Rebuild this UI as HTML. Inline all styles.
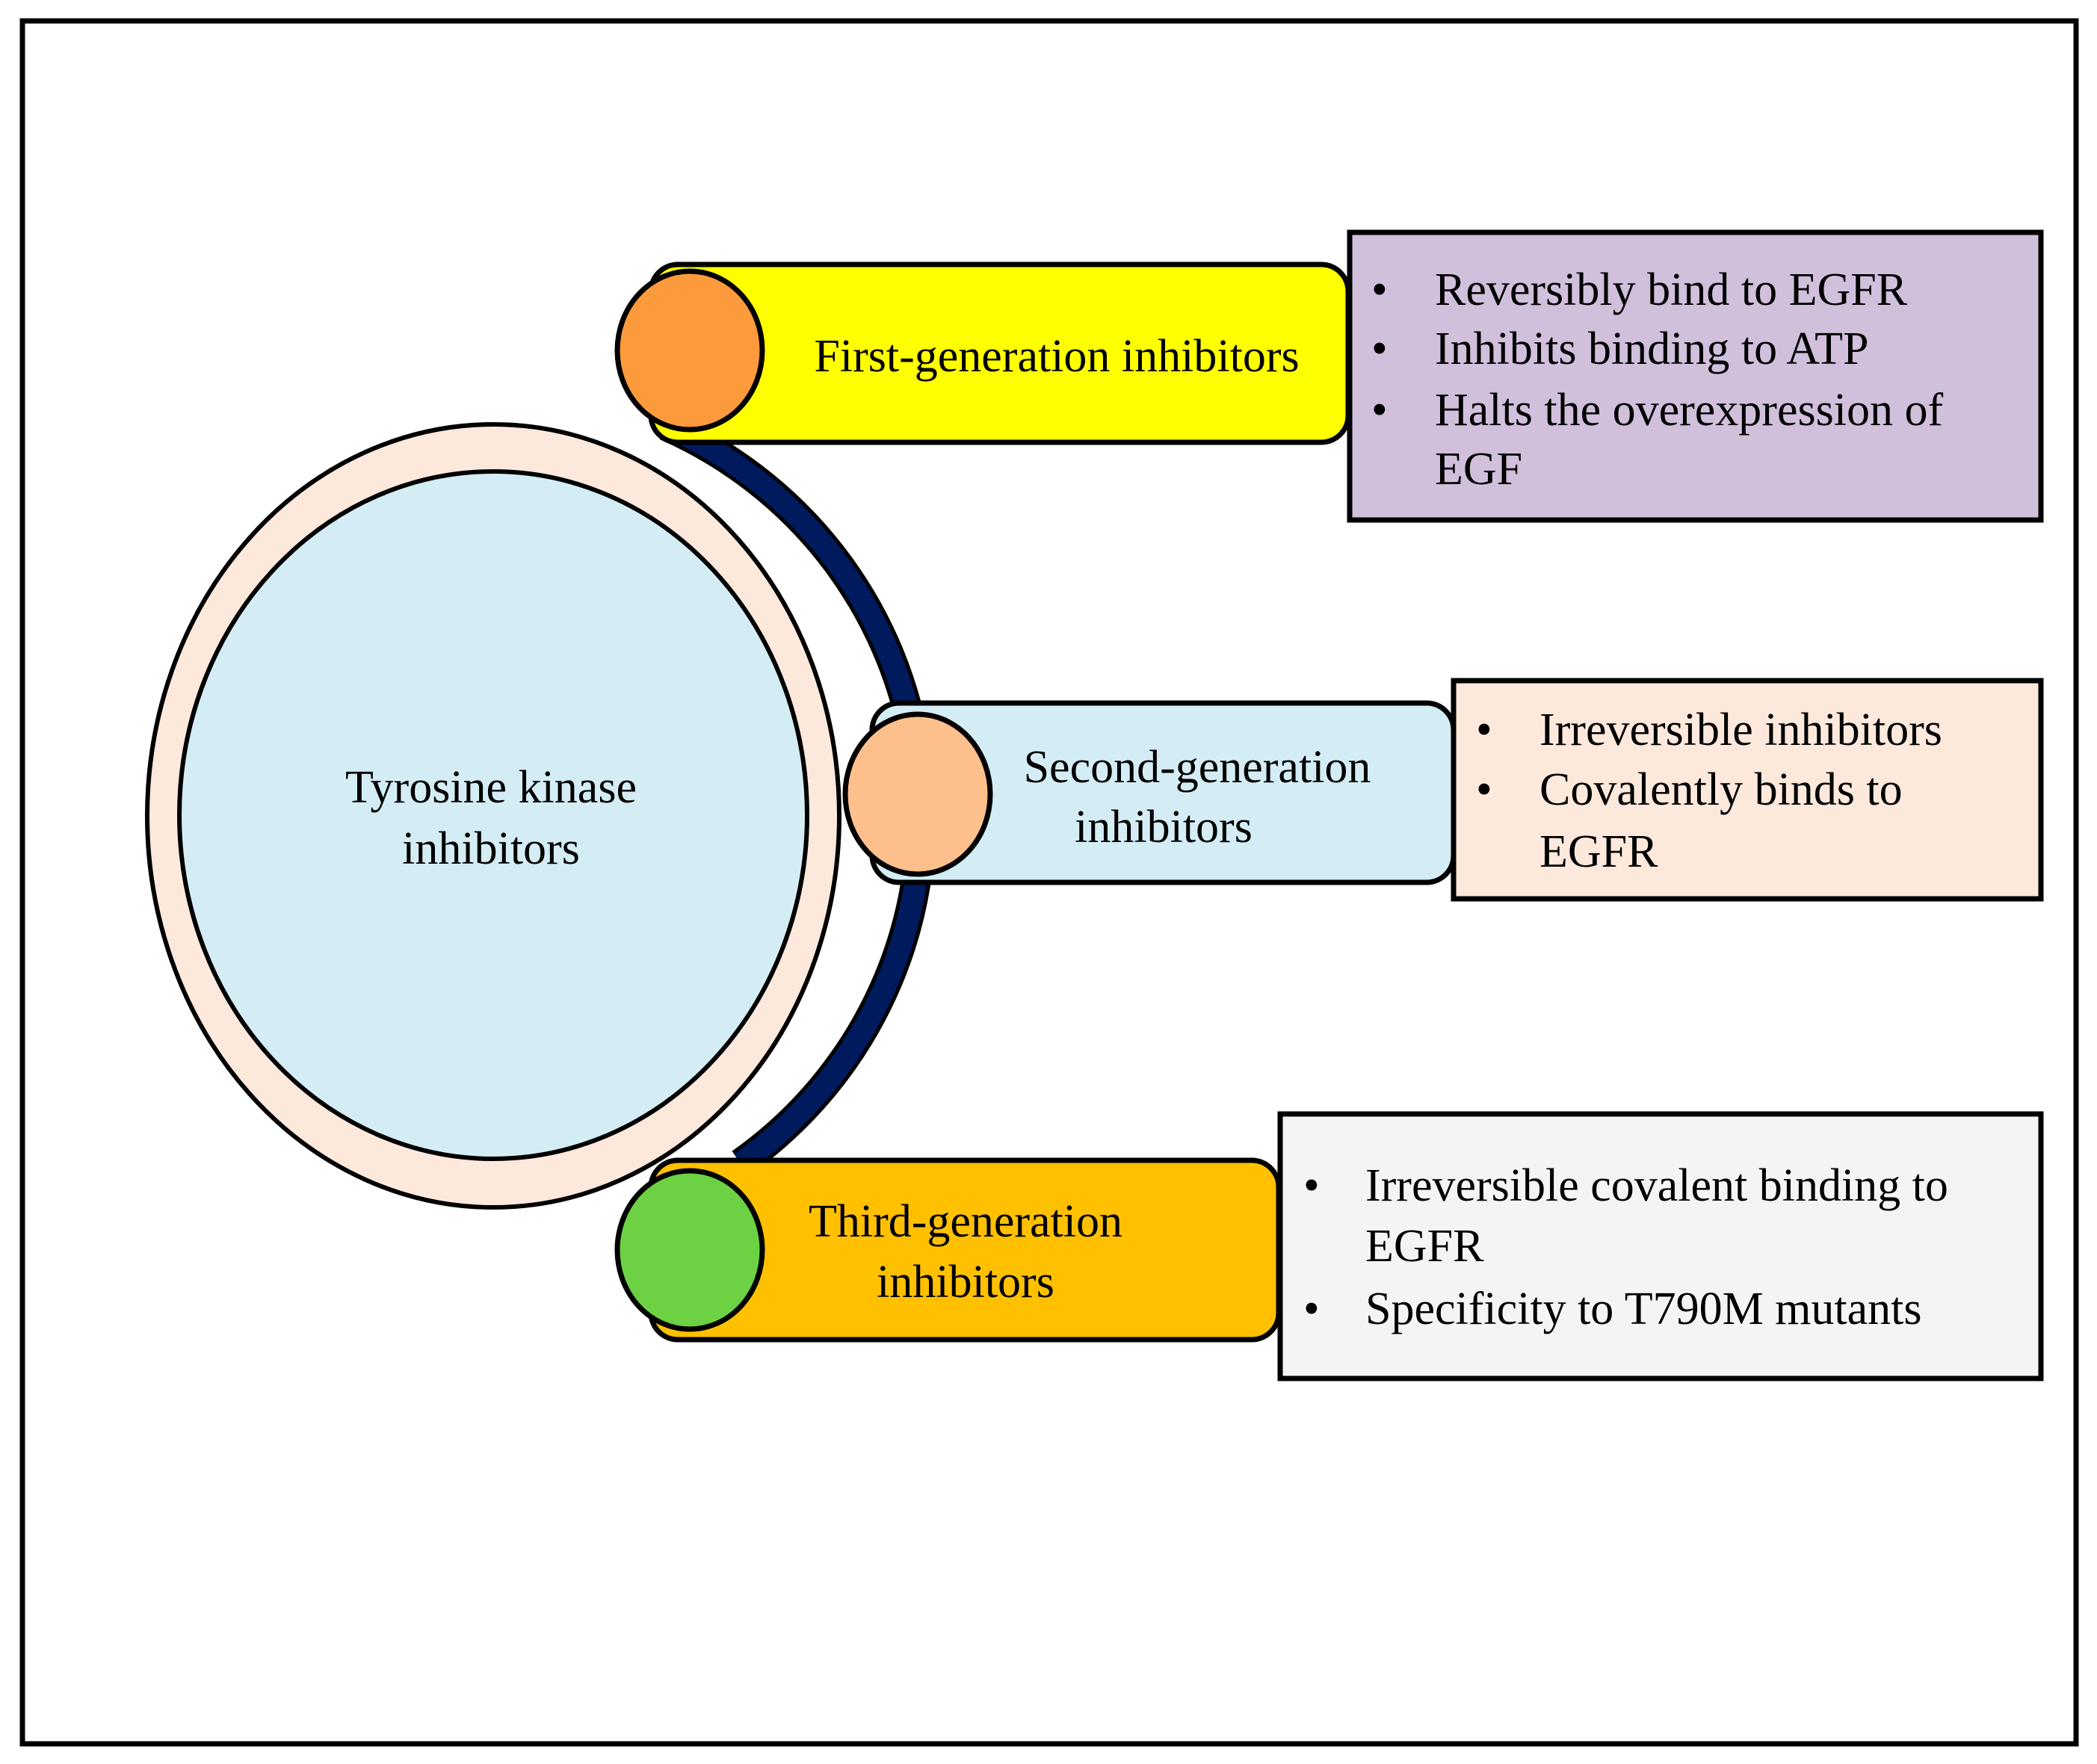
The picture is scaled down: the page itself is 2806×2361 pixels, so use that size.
<!DOCTYPE html>
<html><head><meta charset="utf-8"><style>html,body{margin:0;padding:0;background:#fff}svg{display:block}text{font-family:"Liberation Serif","Times New Roman",serif;font-size:62px}</style></head>
<body>
<svg width="2806" height="2361" viewBox="0 0 2806 2361" xmlns="http://www.w3.org/2000/svg">
<rect x="0" y="0" width="2806" height="2361" fill="#fff"/>
<rect x="30" y="28" width="2748" height="2306" fill="none" stroke="#000" stroke-width="7"/>
<ellipse cx="660" cy="1092" rx="463" ry="524" fill="#fde9dc" stroke="#000" stroke-width="6"/>
<ellipse cx="660" cy="1091" rx="420" ry="460" fill="#d4edf5" stroke="#000" stroke-width="6"/>
<text x="657" y="1074" text-anchor="middle">Tyrosine kinase</text>
<text x="657" y="1156" text-anchor="middle">inhibitors</text>
<path d="M 891 570 A 575 571 0 0 1 991 1557" fill="none" stroke="#000" stroke-width="40"/>
<path d="M 891 570 A 575 571 0 0 1 991 1557" fill="none" stroke="#001a5e" stroke-width="30"/>
<rect x="871" y="354" width="933" height="238" rx="36" fill="#ffff00" stroke="#000" stroke-width="7"/>
<ellipse cx="923" cy="469" rx="97" ry="106" fill="#fd9a3c" stroke="#000" stroke-width="7"/>
<text x="1414" y="497" text-anchor="middle">First-generation inhibitors</text>
<rect x="1806" y="311" width="925" height="385" fill="#d0c0dc" stroke="#000" stroke-width="7"/>
<text x="1835" y="408">•</text><text x="1920" y="408">Reversibly bind to EGFR</text>
<text x="1835" y="487">•</text><text x="1920" y="487">Inhibits binding to ATP</text>
<text x="1835" y="569">•</text><text x="1920" y="569">Halts the overexpression of</text>
<text x="1920" y="648">EGF</text>
<rect x="1167" y="941" width="778" height="240" rx="36" fill="#d4edf5" stroke="#000" stroke-width="7"/>
<ellipse cx="1228" cy="1063" rx="97" ry="107" fill="#fdbf8c" stroke="#000" stroke-width="7"/>
<text x="1602" y="1047" text-anchor="middle">Second-generation</text>
<text x="1557" y="1127" text-anchor="middle">inhibitors</text>
<rect x="1945" y="911" width="786" height="292" fill="#fde9dc" stroke="#000" stroke-width="7"/>
<text x="1975" y="997">•</text><text x="2060" y="997">Irreversible inhibitors</text>
<text x="1975" y="1077">•</text><text x="2060" y="1077">Covalently binds to</text>
<text x="2060" y="1160">EGFR</text>
<rect x="871" y="1553" width="840" height="240" rx="36" fill="#ffc000" stroke="#000" stroke-width="7"/>
<ellipse cx="923" cy="1673" rx="97" ry="106" fill="#6cd244" stroke="#000" stroke-width="7"/>
<text x="1292" y="1655" text-anchor="middle">Third-generation</text>
<text x="1292" y="1736" text-anchor="middle">inhibitors</text>
<rect x="1713" y="1491" width="1018" height="354" fill="#f4f4f4" stroke="#000" stroke-width="7"/>
<text x="1744" y="1607">•</text><text x="1827" y="1607">Irreversible covalent binding to</text>
<text x="1827" y="1688">EGFR</text>
<text x="1744" y="1772">•</text><text x="1827" y="1772">Specificity to T790M mutants</text>
</svg>
</body></html>
